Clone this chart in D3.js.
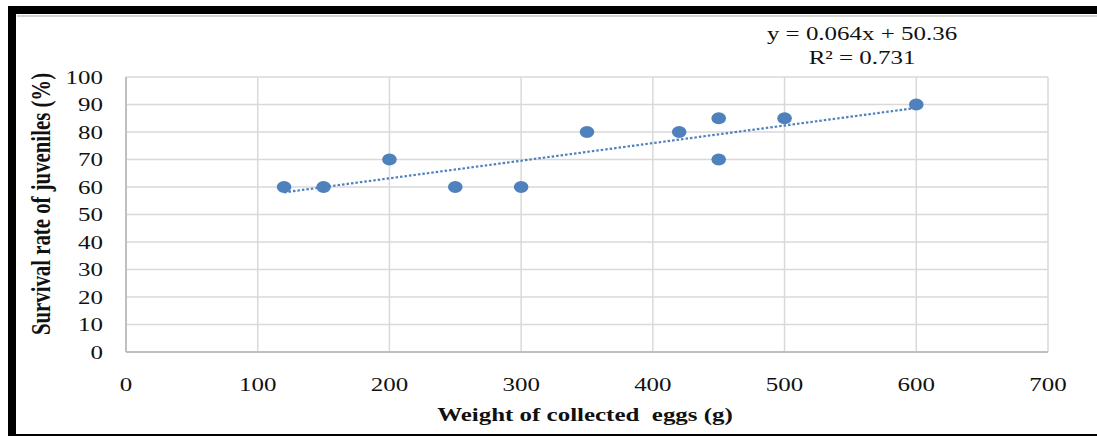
<!DOCTYPE html>
<html>
<head>
<meta charset="utf-8">
<script src="https://cdn.jsdelivr.net/npm/d3@7"></script>
<style>
  html, body { margin: 0; padding: 0; background: #fff; }
  svg { display: block; }
  text { font-family: "Liberation Serif", "Times New Roman", serif; }
</style>
</head>
<body>
<svg id="chart" width="1097" height="436"></svg>
<script>
// Weight of collected eggs (g) for each batch
const eggWeight = [120, 150, 200, 250, 300, 350, 420, 450, 450, 500, 600];
// Survival rate of juveniles (%) for each batch
const survival = [60, 60, 70, 60, 60, 80, 80, 85, 70, 85, 90];
// Linear trendline coefficients
const slope = 0.064;
const intercept = 50.36;
const rSquared = 0.731;
// Axis ticks
const xTicks = [0, 100, 200, 300, 400, 500, 600, 700];
const yTicks = [0, 10, 20, 30, 40, 50, 60, 70, 80, 90, 100];

const svg = d3.select("#chart");
const W = 1097, H = 436;
const SX = 1.28; // horizontal text stretch
const blue = "#4f81bd";

const x = d3.scaleLinear().domain([0, 700]).range([126, 1048]);
const y = d3.scaleLinear().domain([0, 100]).range([352, 77]);

// frame
svg.append("rect").attr("x", 8).attr("y", 6).attr("width", W - 8).attr("height", 8).attr("fill", "#000");
svg.append("rect").attr("x", 8).attr("y", 6).attr("width", 8).attr("height", H - 6).attr("fill", "#000");
svg.append("rect").attr("x", 8).attr("y", 434).attr("width", W - 8).attr("height", 2).attr("fill", "#000");
svg.append("rect").attr("x", 17).attr("y", 15).attr("width", W - 17).attr("height", 2).attr("fill", "#d4d4d4");

function label(parent, px, py, str, anchor, size, weight) {
  return parent.append("text")
    .attr("transform", `translate(${px},${py}) scale(${SX},1)`)
    .attr("text-anchor", anchor)
    .attr("font-size", size)
    .attr("font-weight", weight || "normal")
    .attr("fill", "#111")
    .text(str);
}

// gridlines
const grid = svg.append("g");
grid.selectAll("line.h").data(yTicks).join("line")
  .attr("x1", x(0)).attr("x2", x(700))
  .attr("y1", d => y(d)).attr("y2", d => y(d))
  .attr("stroke", "#d9d9d9").attr("stroke-width", 1.5);
grid.selectAll("line.v").data(xTicks).join("line")
  .attr("x1", d => x(d)).attr("x2", d => x(d))
  .attr("y1", y(0)).attr("y2", y(100))
  .attr("stroke", "#d9d9d9").attr("stroke-width", 1.5);

// axis lines
svg.append("line").attr("x1", x(0)).attr("x2", x(0)).attr("y1", y(100)).attr("y2", y(0))
  .attr("stroke", "#bfbfbf").attr("stroke-width", 2);
svg.append("line").attr("x1", x(0)).attr("x2", x(700)).attr("y1", y(0)).attr("y2", y(0))
  .attr("stroke", "#bfbfbf").attr("stroke-width", 2);

// tick labels
const yl = svg.append("g");
yTicks.forEach(t => label(yl, 103, y(t) + 6.5, String(t), "end", 19.5));
const xl = svg.append("g");
xTicks.forEach(t => label(xl, x(t), 391, String(t), "middle", 19.5));

// axis titles
label(svg, 585, 421, "Weight of collected  eggs (g)", "middle", 19.5, "bold")
  .attr("xml:space", "preserve");
svg.append("text")
  .attr("transform", `translate(50,204) rotate(-90) scale(1,${SX})`)
  .attr("text-anchor", "middle")
  .attr("font-size", 20.8)
  .attr("font-weight", "bold")
  .attr("fill", "#111")
  .text("Survival rate of juveniles (%)");

// trendline
const xs = d3.extent(eggWeight);
svg.append("line")
  .attr("x1", x(xs[0])).attr("y1", y(slope * xs[0] + intercept))
  .attr("x2", x(xs[1])).attr("y2", y(slope * xs[1] + intercept))
  .attr("stroke", blue).attr("stroke-width", 2.2)
  .attr("stroke-dasharray", "2.5,2");

// points
svg.append("g").selectAll("ellipse")
  .data(eggWeight.map((w, i) => [w, survival[i]]))
  .join("ellipse")
  .attr("cx", d => x(d[0])).attr("cy", d => y(d[1]))
  .attr("rx", 7.3).attr("ry", 6)
  .attr("fill", blue);

// equation
label(svg, 862, 40, `y = ${slope}x + ${intercept}`, "middle", 19.5);
label(svg, 862, 64, `R² = ${rSquared}`, "middle", 19.5);
</script>
</body>
</html>
